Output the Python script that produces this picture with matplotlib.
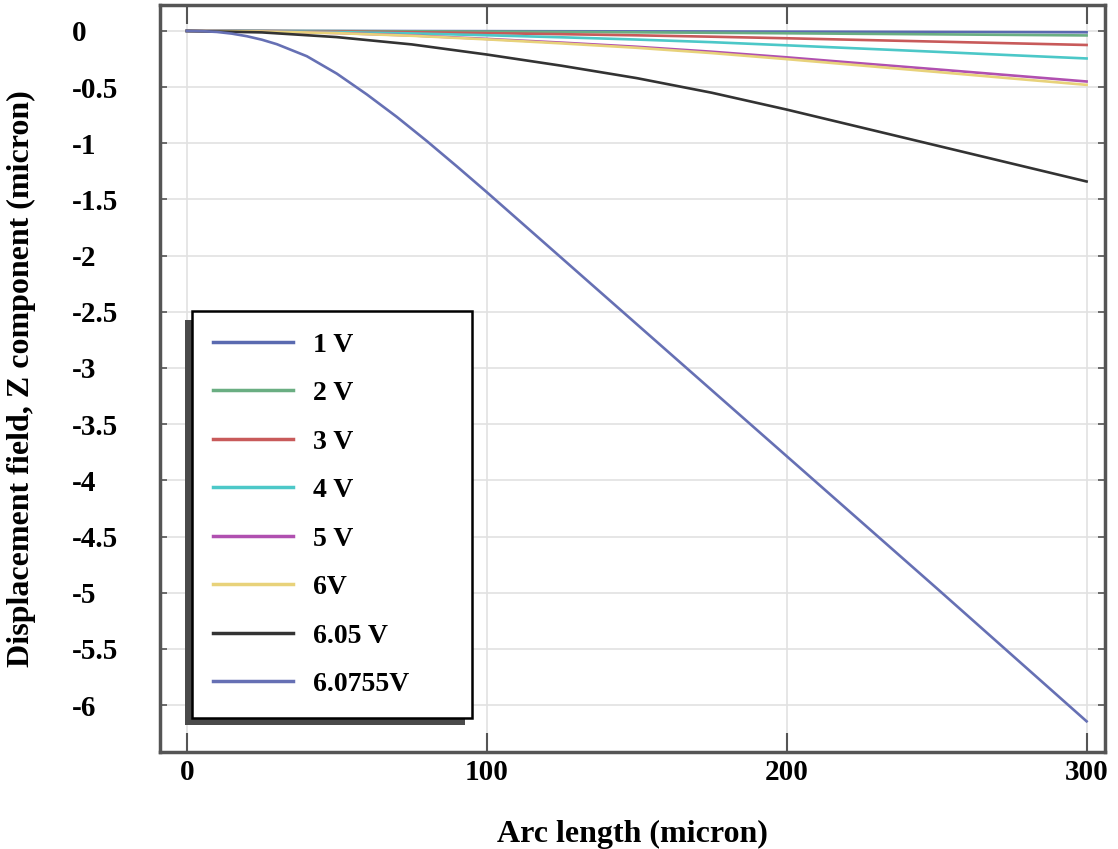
import matplotlib.pyplot as plt
from matplotlib.patches import Rectangle

# arc length positions (micron)
arc = [0, 25, 50, 75, 100, 125, 150, 175, 200, 225, 250, 275, 300]

# z displacement (micron)
z_1v = [0, -0.0001, -0.0005, -0.0011, -0.0019, -0.0028, -0.0038, -0.0049, -0.0063, -0.0077, -0.0091, -0.0106, -0.012]
z_2v = [0, -0.0004, -0.0016, -0.0036, -0.0063, -0.0092, -0.0125, -0.0164, -0.0209, -0.0257, -0.0304, -0.0352, -0.04]
z_3v = [0, -0.0012, -0.0051, -0.0112, -0.0196, -0.0289, -0.0391, -0.0513, -0.0653, -0.0803, -0.0951, -0.110, -0.125]
z_4v = [0, -0.0024, -0.010, -0.022, -0.0385, -0.0566, -0.0767, -0.100, -0.128, -0.157, -0.186, -0.216, -0.245]
z_5v = [0, -0.0044, -0.0185, -0.0403, -0.0707, -0.104, -0.141, -0.185, -0.235, -0.289, -0.342, -0.396, -0.45]
z_6v = [0, -0.0047, -0.0197, -0.043, -0.075, -0.111, -0.150, -0.197, -0.251, -0.308, -0.365, -0.423, -0.48]
z_605v = [0, -0.013, -0.055, -0.12, -0.21, -0.31, -0.42, -0.55, -0.70, -0.86, -1.02, -1.18, -1.34]

arc_b = [0, 5, 10, 15, 20, 25, 30, 40, 50, 60, 70, 80, 90, 100, 110, 120, 150, 200, 250, 300]
z_60755v = [0, -0.002, -0.009, -0.024, -0.047, -0.078, -0.118, -0.225, -0.38, -0.565, -0.765, -0.98, -1.205,
            -1.435, -1.67, -1.905, -2.61, -3.785, -4.96, -6.145]

labels = ['1 V', '2 V', '3 V', '4 V', '5 V', '6V', '6.05 V', '6.0755V']
colors = ['#5a6ab0', '#6aae82', '#c85a5a', '#4cc8c8', '#b050b0', '#e8d27a', '#333333', '#6670b4']

plt.rcParams['font.family'] = ['Liberation Serif', 'DejaVu Serif']
plt.rcParams['font.weight'] = 'bold'

fig = plt.figure(figsize=(11.18, 8.49), dpi=100)
ax = fig.add_axes([0.143, 0.114, 0.845, 0.880])

series = [z_1v, z_2v, z_3v, z_4v, z_5v, z_6v, z_605v]
for z, lab, c in zip(series, labels[:7], colors[:7]):
    ax.plot(arc, z, color=c, lw=1.9, label=lab, zorder=3)
ax.plot(arc_b, z_60755v, color=colors[7], lw=1.9, label=labels[7], zorder=3)

ax.set_xlim(-9, 306)
ax.set_ylim(-6.42, 0.23)
ax.set_xticks([0, 100, 200, 300])
ax.set_yticks([0, -0.5, -1, -1.5, -2, -2.5, -3, -3.5, -4, -4.5, -5, -5.5, -6])
ax.set_yticklabels(['0', '-0.5', '-1', '-1.5', '-2', '-2.5', '-3', '-3.5', '-4', '-4.5', '-5', '-5.5', '-6'])
ax.grid(color='#e2e2e2', lw=1.2, zorder=0)

ax.tick_params(axis='x', direction='in', length=14, width=1.5, top=True, labelsize=21, pad=5, color='#555555')
ax.tick_params(axis='y', direction='in', length=5, width=1.2, right=True, labelsize=21, pad=63, color='#555555')
for t in ax.get_yticklabels():
    t.set_ha('left')
for s in ax.spines.values():
    s.set_linewidth(2.5)
    s.set_color('#555555')

ax.set_xlabel('Arc length (micron)', fontsize=23, fontweight='bold', labelpad=24)
ax.set_ylabel('Displacement field, Z component (micron)', fontsize=23, fontweight='bold', labelpad=26)

# legend box, shadow falls to the lower left
lx, ly, lw_, lh = 0.034, 0.046, 0.296, 0.542
ax.add_patch(Rectangle((lx - 0.007, ly - 0.009), lw_, lh, transform=ax.transAxes,
                       facecolor='#4a4a4a', edgecolor='none', zorder=4))
leg = ax.legend(loc='lower left', bbox_to_anchor=(lx, ly, lw_, lh), mode='expand', fontsize=20,
                frameon=True, fancybox=False, edgecolor='black', labelspacing=0.83, handlelength=2.9,
                borderpad=0.75, handletextpad=0.7, borderaxespad=0, framealpha=1)
leg.get_frame().set_linewidth(1.8)
leg.set_zorder(5)
for h in leg.get_lines():
    h.set_linewidth(2.5)

fig.savefig('out.png', dpi=100)
